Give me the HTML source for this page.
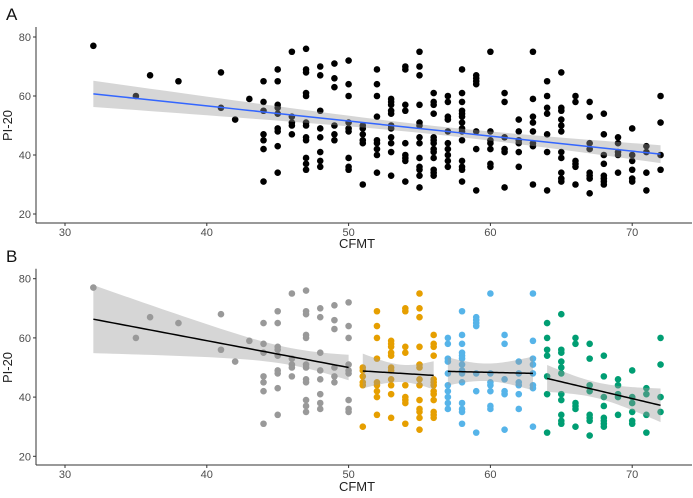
<!DOCTYPE html>
<html><head><meta charset="utf-8"><style>
body{margin:0;background:#fff;}
svg{display:block;font-family:"Liberation Sans",Arial,sans-serif;}
.tick{fill:#4d4d4d;font-size:11px;}
.ttl{fill:#222;font-size:13px;}
</style></head><body>
<svg id="c" width="693" height="498"></svg>
<script>
// CFMT score per point
const cfmt = [32,35,36,38,41,41,42,43,
44,44,44,44,44,44,44, 45,45,45,45,45,45,45,45,45, 46,46,46,46,46,
47,47,47,47,47,47,47,47,47,47,47,47, 48,48,48,48,48,48,48,48, 49,49,49,49,49,49,
50,50,50,50,50,50,50,50,50,
51,51,51,51,51,51, 52,52,52,52,52,52,52,52,52, 53,53,53,53,53,53,53,53,53,53,53,
54,54,54,54,54,54,54,54,54, 55,55,55,55,55,55,55,55,55,55,55,55,55, 56,56,56,56,56,56,56,56,56,56,56,56,56,
57,57,57,57,57,57,57,57,57,57, 58,58,58,58,58,58,58,58,58,58,58,58,58,58, 59,59,59,59,59,59,59,
60,60,60,60,60,60,60, 61,61,61,61,61,61, 62,62,62,62,62,62, 63,63,63,63,63,63,63,63,
64,64,64,64,64,64,64, 65,65,65,65,65,65,65,65,65,65,65, 66,66,66,66,66,66, 67,67,67,67,67,67,67,67,
68,68,68,68,68,68,68,68, 69,69,69,69,69, 70,70,70,70,70,70, 71,71,71,71, 72,72,72,72];
// PI-20 score per point
const pi20 = [77,60,67,65,68,56,52,59,
65,58,55,47,45,42,31, 69,65,57,56,54,49,48,43,34, 75,53,51,50,47,
76,69,68,61,60,51,50,46,45,39,37,35, 70,67,55,49,46,41,38,36, 71,66,63,50,47,45,
72,64,60,51,49,48,39,36,35,
50,49,47,45,44,30, 69,64,60,53,45,44,42,40,34, 59,58,57,55,54,50,49,46,44,41,33,
70,69,57,55,44,40,39,38,31, 75,70,67,57,51,50,46,44,39,36,35,33,29, 61,58,57,54,46,45,44,42,41,39,35,34,33,
60,58,53,52,48,44,42,40,38,36, 69,61,58,55,54,53,51,49,48,45,38,36,35,31, 67,66,65,64,48,42,28,
75,48,45,44,42,37,36, 61,58,46,42,41,29, 52,48,45,44,41,36, 75,59,53,51,48,44,43,30,
65,60,56,54,47,41,28, 68,56,55,52,50,48,41,39,34,32,31, 60,58,38,37,36,30, 58,53,44,42,34,33,32,27,
54,47,40,37,33,32,31,30, 46,44,41,40,34, 49,40,38,35,32,31, 43,41,34,28, 60,51,40,35];
const xTicks = [30,40,50,60,70];
const yTicks = [20,40,60,80];
const groupNames = ["low","mid-low","mid-high","high"];
const groupMax = [50,56,63,72];
const groupColors = ["#999999","#E69F00","#56B4E9","#009E73"];

const NS="http://www.w3.org/2000/svg";
const svg=document.getElementById('c');
function mk(t,a,p){const e=document.createElementNS(NS,t);for(const k in a)e.setAttribute(k,a[k]);(p||svg).appendChild(e);return e;}
const X=v=>65+(v-30)*14.18;
const panels=[{top:37,bot:214,axis:223,label:"A",ly:20,xt:248},{top:278.7,bot:456.3,axis:465,label:"B",ly:262,xt:491}];

function fit(xs,ys){
  const n=xs.length,mx=xs.reduce((a,b)=>a+b,0)/n,my=ys.reduce((a,b)=>a+b,0)/n;
  let sxx=0,sxy=0;for(let i=0;i<n;i++){sxx+=(xs[i]-mx)**2;sxy+=(xs[i]-mx)*(ys[i]-my);}
  const b=sxx?sxy/sxx:0,a=my-b*mx;let ss=0;for(let i=0;i<n;i++)ss+=(ys[i]-a-b*xs[i])**2;
  const s=Math.sqrt(ss/Math.max(1,n-2));
  return {a,b,s,n,mx,sxx};
}
function drawFit(xs,ys,Y,color,name,g){
  const f=fit(xs,ys),x0=Math.min(...xs),x1=Math.max(...xs);
  const up=[],lo=[],ln=[];
  for(let k=0;k<=40;k++){const x=x0+(x1-x0)*k/40,y=f.a+f.b*x;
    const se=f.s*Math.sqrt(1/f.n+(f.sxx?(x-f.mx)**2/f.sxx:0))*2;
    up.push(X(x)+','+Y(y+se));lo.unshift(X(x)+','+Y(y-se));ln.push(X(x)+','+Y(y));}
  const band=mk('polygon',{points:up.concat(lo).join(' '),fill:'#999',opacity:0.4},g);
  
  
  const l=mk('polyline',{points:ln.join(' '),fill:'none',stroke:color,'stroke-width':1.5},g);
  
  
}
function grp(v){for(let i=0;i<groupMax.length;i++)if(v<=groupMax[i])return i;return groupMax.length-1;}

panels.forEach((p,pi)=>{
  const Y=v=>p.top+(80-v)*(p.bot-p.top)/60;
  const g=mk('g',{});
  
  
  const pl=mk('text',{x:6,y:p.ly,'font-size':17,fill:'#111'},g);pl.textContent=p.label;
  
  
  const pts=mk('g',{},g);
  
  
  cfmt.forEach((c,i)=>{
    const col=pi===0?'#000':groupColors[grp(c)];
    const d=mk('circle',{cx:X(c),cy:Y(pi20[i]),r:3.3,fill:col},pts);
    
    
  });
  if(pi===0){drawFit(cfmt,pi20,Y,'#3366FF','overall',g);}
  else{
    groupNames.forEach((nm,gi)=>{const xs=[],ys=[];cfmt.forEach((c,i)=>{if(grp(c)===gi){xs.push(c);ys.push(pi20[i]);}});
      if(xs.length>2)drawFit(xs,ys,Y,'#000',nm,g);});
  }
  mk('line',{x1:36,y1:p.top-10,x2:36,y2:p.axis,stroke:'#333','stroke-width':1},g);
  mk('line',{x1:36,y1:p.axis,x2:692,y2:p.axis,stroke:'#333','stroke-width':1},g);
  xTicks.forEach(t=>{mk('line',{x1:X(t),y1:p.axis,x2:X(t),y2:p.axis+3,stroke:'#333'},g);
    const tx=mk('text',{x:X(t),y:p.axis+13,'text-anchor':'middle',class:'tick'},g);tx.textContent=t;
    
    });
  yTicks.forEach(t=>{mk('line',{x1:33,y1:Y(t),x2:36,y2:Y(t),stroke:'#333'},g);
    const tx=mk('text',{x:31,y:Y(t)+4,'text-anchor':'end',class:'tick'},g);tx.textContent=t;
    
    });
  const xt=mk('text',{x:357,y:p.xt,'text-anchor':'middle',class:'ttl'},g);xt.textContent='CFMT';
  
  
  const yc=(p.top+p.bot)/2;
  const yt=mk('text',{x:12,y:yc,'text-anchor':'middle',class:'ttl',transform:'rotate(-90 12 '+yc+')'},g);yt.textContent='PI-20';
  
  
});
</script>
</body></html>
